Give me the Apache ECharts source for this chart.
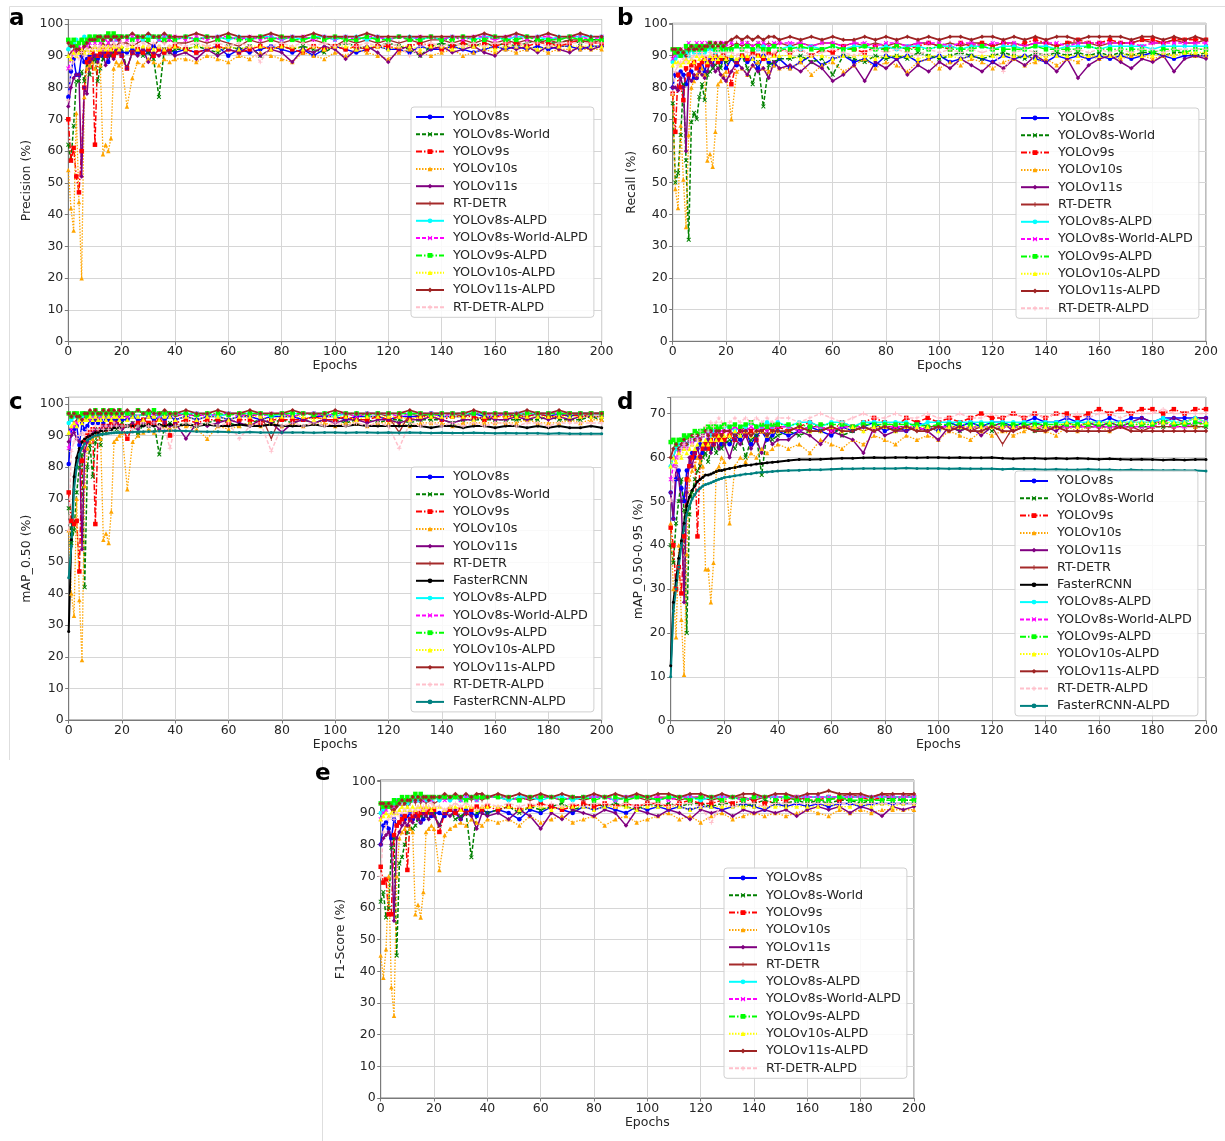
<!DOCTYPE html>
<html>
<head>
<meta charset="utf-8">
<script src="https://cdn.jsdelivr.net/npm/echarts@6/dist/echarts.min.js"></script>
<style>html,body{margin:0;padding:0;background:#fff}#main{width:1225px;height:1141px}</style>
</head>
<body>
<div id="main"></div>
<script>
// ---------------- DATA ----------------
const EPOCHS = [0,1,2,3,4,5,6,7,8,9,10,11,12,13,14,15,16,17,18,19,20,
 22,24,26,28,30,32,34,36,38,40,
 44,48,52,56,60,64,68,72,76,80,84,88,92,96,100,104,108,112,116,120,
 124,128,132,136,140,144,148,152,156,160,164,168,172,176,180,184,188,192,196,200];

// (a) Precision
const A_V8S = [77,85,89,84,84,90,88,89,90,91,90,89,91,90,91,88,91,90,91,92,91,
 91,92,91,92,91,93,92,91,92,91,
 92,91,92,93,90,92,91,92,93,92, 91,92,90,92,93,92,91,92,93,92, 92,91,93,92,92,93,92,91,92,93, 92,93,92,93,92,93,93,92,93,93];
const A_V8SW = [62,57,68,82,82,85,82,88,84,88,89,82,86,89,90,91,90,91,92,91,92,
 86,91,92,90,91,89,77,92,91,92,
 92,93,92,91,93,92,93,90,92,93, 92,93,92,91,93,94,93,92,93,94, 93,92,90,93,94,93,94,93,94,93, 94,93,94,95,94,94,95,94,95,95];
const A_V9S = [70,57,61,52,47,60,80,88,89,91,62,90,91,92,90,91,92,90,91,92,90,
 86,91,92,91,92,90,92,91,92,93,
 92,91,92,93,92,91,92,93,92,93, 92,91,93,92,93,92,93,92,93,93, 92,93,94,93,92,93,94,93,94,93, 94,94,93,94,94,93,94,95,94,94];
const A_V10S = [54,42,35,72,44,20,77,86,87,88,86,88,87,59,62,60,64,86,88,87,88,
 74,83,88,87,89,88,87,89,88,89,
 89,88,90,89,88,90,89,91,90,89, 88,91,90,89,91,90,92,91,90,89, 91,92,91,90,91,92,90,91,92,91, 92,91,92,92,91,92,92,92,92,92];
const A_V11S = [74,80,83,84,84,52,80,78,88,89,90,88,90,91,87,90,91,89,92,91,90,
 86,91,90,92,88,91,90,92,91,90,
 91,89,92,90,92,91,93,90,92,91, 88,92,91,93,92,89,92,93,91,88, 92,93,90,92,93,91,92,93,91,90, 93,92,93,91,93,92,91,93,92,93];
const A_RTDETR = [90,91,92,91,92,90,91,92,93,92,93,92,93,94,93,94,93,94,93,94,94,
 94,93,94,95,94,93,95,94,95,94,
 94,95,94,95,94,93,95,94,95,94, 95,94,95,94,93,95,94,95,94,95, 94,95,94,95,95,94,95,94,95,94, 95,94,95,94,95,94,95,95,94,95];
const A_V8SA = [92,93,94,95,94,95,96,95,96,95,96,95,96,95,96,96,95,96,95,96,96,
 96,95,96,95,96,96,95,96,96,95,
 96,95,96,96,95,96,95,96,96,95, 96,95,96,96,95,96,96,95,96,95, 96,96,95,96,95,96,96,95,96,96, 95,96,96,96,95,96,96,96,96,96];
const A_V8SWA = [86,89,91,92,93,92,94,93,94,95,94,95,94,95,95,94,95,96,95,95,96,
 95,96,95,96,95,96,95,96,95,96,
 95,96,95,96,96,95,96,95,96,95, 96,96,95,96,95,96,95,96,96,95, 96,95,96,96,95,96,95,96,96,95, 96,96,95,96,96,95,96,96,95,96];
const A_V9SA = [95,94,95,93,94,95,94,95,96,95,96,95,96,95,96,97,96,97,96,96,96,
 96,95,96,96,95,96,96,95,96,95,
 96,95,96,95,96,95,95,96,95,96, 95,95,96,95,96,95,95,96,95,95, 96,95,95,96,95,95,96,95,95,96, 95,95,96,95,95,95,96,95,95,95];
const A_V10SA = [90,89,91,90,91,92,91,92,91,92,93,92,92,93,92,93,92,93,93,92,93,
 92,93,92,93,93,92,93,92,93,93,
 92,93,93,92,93,92,93,93,92,93, 93,92,93,92,93,93,92,93,93,92, 93,93,92,93,93,92,93,93,93,92, 93,93,93,92,93,93,93,93,93,93];
const A_V11SA = [94,93,93,92,92,91,93,94,95,95,95,96,96,95,96,96,95,96,96,95,96,
 96,97,96,96,97,96,96,97,96,96,
 96,97,96,96,97,96,96,96,97,96, 96,96,97,96,96,96,96,97,96,96, 96,96,96,96,96,96,96,96,97,96, 96,97,96,96,97,96,96,97,96,96];
const A_RTDETRA = [76,86,88,90,89,91,90,92,91,92,93,92,93,92,93,92,93,94,93,93,94,
 93,94,93,94,93,94,93,94,93,94,
 93,94,93,94,93,94,93,88,93,94, 93,94,93,94,93,94,93,94,93,94, 93,90,93,94,93,94,93,94,93,94, 94,93,94,94,93,94,94,94,94,94];

// (b) Recall
const B_V8S = [80,84,84,85,84,81,84,85,83,83,86,88,85,88,89,87,90,89,88,90,86,
 89,87,90,88,89,86,90,88,87,89,
 86,88,90,87,89,90,88,89,87,90, 89,90,88,89,90,88,89,90,89,88, 90,89,90,89,88,90,89,90,89,90, 89,90,89,90,91,90,89,90,90,90];
const B_V8SW = [75,50,53,65,81,57,32,69,72,70,77,81,76,84,85,86,87,88,86,89,88,
 89,88,90,86,81,88,74,87,88,89,
 89,90,88,89,84,90,89,88,90,89, 90,89,91,90,89,90,91,90,89,90, 91,90,89,91,90,91,90,91,90,91, 90,91,90,91,91,90,91,91,90,91];
const B_V9S = [78,66,84,80,76,86,84,87,88,86,87,88,89,87,88,89,90,88,89,90,89,
 81,88,90,89,91,90,89,91,90,92,
 91,92,90,92,91,93,92,91,93,92, 93,92,93,94,93,92,94,93,94,93, 94,93,94,95,94,93,94,95,94,94, 95,94,94,95,95,94,95,95,95,95];
const B_V10S = [78,48,42,68,51,36,65,80,82,84,85,86,84,57,59,55,66,81,82,84,85,
 70,85,86,84,87,88,86,85,87,86,
 86,88,84,87,88,85,87,89,86,88, 87,85,88,89,86,88,87,89,88,86, 88,89,87,88,89,87,89,88,90,89, 90,89,90,90,89,90,90,91,90,90];
const B_V11S = [80,80,79,83,80,60,83,82,84,83,85,84,83,85,88,87,85,86,84,83,82,
 85,88,86,84,87,85,86,83,88,86,
 87,85,88,86,82,84,87,82,88,86, 89,84,87,85,88,86,89,87,85,88, 86,89,87,90,88,85,89,83,87,89, 90,88,86,89,88,90,85,89,90,89];
const B_RTDETR = [90,91,92,90,91,92,91,92,93,92,91,93,92,93,92,93,92,93,94,93,92,
 93,94,93,94,93,94,93,94,93,94,
 93,94,93,94,94,93,94,93,94,93, 94,93,94,94,93,94,93,94,94,93, 94,94,93,94,94,93,94,94,94,93, 94,94,94,95,94,94,95,94,94,95];
const B_V8SA = [88,89,90,91,90,91,90,92,91,92,91,92,91,92,93,92,91,92,93,92,92,
 92,93,92,93,92,92,93,92,93,92,
 93,92,93,92,93,92,93,93,92,93, 92,93,93,92,93,93,92,93,93,92, 93,93,92,93,93,92,93,93,93,92, 93,93,93,93,92,93,93,93,93,93];
const B_V8SWA = [89,90,91,92,91,93,94,92,93,94,93,94,93,94,94,93,94,93,94,94,93,
 94,93,94,94,93,94,94,93,94,94,
 94,94,93,94,94,93,94,94,93,94, 94,93,94,94,94,93,94,94,93,94, 94,94,93,94,94,94,93,94,94,94, 94,94,94,93,94,94,94,94,94,94];
const B_V9SA = [92,91,92,90,91,93,92,93,92,93,92,93,92,93,94,93,92,93,92,93,92,
 92,93,92,93,92,93,92,92,93,92,
 92,93,92,92,93,92,92,93,92,92, 93,92,92,92,93,92,92,92,93,92, 92,92,92,93,92,92,92,92,93,92, 92,92,92,92,91,92,92,91,92,92];
const B_V10SA = [87,88,88,87,88,89,88,89,88,90,89,90,89,88,90,89,90,89,90,90,89,
 90,89,90,90,89,90,90,89,90,90,
 90,89,90,90,89,90,90,90,89,90, 90,90,89,90,90,90,89,90,90,90, 90,90,90,89,90,90,90,90,90,90, 90,90,91,90,90,91,90,91,91,91];
const B_V11SA = [92,92,91,92,91,90,92,93,92,92,93,92,93,93,94,93,94,93,94,93,94,
 95,96,95,96,95,96,95,96,96,95,
 96,95,96,95,96,95,95,96,95,96, 95,96,95,96,95,96,96,95,96,96, 95,96,95,96,95,96,96,95,96,96, 96,96,95,96,96,95,96,95,96,95];
const B_RTDETRA = [78,85,87,88,89,88,90,89,90,91,90,91,90,89,91,90,91,92,91,90,91,
 91,90,92,91,90,92,91,90,91,92,
 91,92,90,91,92,91,90,91,92,91, 92,91,90,92,91,92,91,92,91,92, 85,91,92,91,90,92,91,92,91,92, 91,92,91,92,92,91,92,92,92,92];

// (c) mAP_0.50
const C_V8S = [81,92,92,93,87,94,92,93,95,94,95,94,95,94,95,95,94,95,95,96,95,
 95,96,95,95,96,95,96,95,96,95,
 96,95,96,96,95,96,96,95,96,96, 96,95,96,96,96,95,96,96,96,95, 96,96,96,97,96,96,96,97,96,96, 97,96,96,97,96,97,96,97,97,97];
const C_V8SW = [67,56,60,72,80,84,42,80,87,77,88,92,87,92,91,93,92,93,92,93,94,
 93,94,90,94,93,94,84,93,94,93,
 94,93,94,95,94,93,94,95,94,95, 94,95,94,95,95,94,95,95,94,95, 95,94,95,95,95,94,95,95,95,95, 95,95,95,95,96,95,95,95,96,95];
const C_V9S = [72,63,62,63,47,82,88,90,91,92,62,91,92,93,92,93,94,93,94,93,93,
 89,93,94,95,94,94,95,94,90,94,
 95,94,95,95,94,95,95,94,95,95, 95,95,96,95,95,96,95,95,96,95, 96,95,96,96,95,96,96,96,95,96, 96,96,96,97,96,96,97,96,97,97];
const C_V10S = [60,40,33,70,38,19,74,86,88,89,90,91,89,57,59,56,66,88,89,90,91,
 73,88,90,91,92,91,92,93,92,93,
 93,92,89,93,92,93,94,93,94,93, 94,93,94,94,93,94,94,93,94,94, 94,93,94,94,94,93,94,94,94,94, 94,94,95,94,94,94,95,94,95,95];
const C_V11S = [88,90,91,89,88,54,85,88,90,91,92,91,92,93,92,93,92,93,94,93,92,
 93,94,92,94,93,94,92,94,93,94,
 89,94,93,94,95,94,93,95,94,91, 94,95,94,95,94,95,95,94,95,95, 94,95,95,96,95,94,95,95,96,95, 95,96,95,96,95,96,95,96,96,96];
const C_RTDETR = [94,95,94,95,96,95,96,95,96,96,95,96,96,97,96,96,97,96,96,97,96,
 96,97,96,97,96,96,97,96,97,96,
 97,96,97,96,97,97,96,97,89,97, 96,97,97,96,97,97,96,97,97,96, 91,97,96,97,97,97,96,97,97,97, 97,96,97,97,97,97,97,97,97,97];
const C_FRCNN = [28,57,77,83,86,88,89,89.5,90,90.5,91,91,91.5,91.5,92,92,92,92.5,92.5,92.5,93,
 93,93,93,93,93.5,93,93.5,93,93.5,93,
 93.5,93,93.5,93,93,93.5,93,93,93.5,93, 93,93,93.5,93,93,93,93.5,93,93,93, 93,93,93,92.5,93,93,92.5,93,93,92.5, 93,93,92.5,93,92.5,93,92.5,92.5,93,92.5];
const C_V8SA = [94,95,96,96,95,96,97,96,97,96,97,97,96,97,97,96,97,97,97,97,97,
 97,97,96,97,97,97,96,97,97,97,
 97,97,97,96,97,97,97,97,96,97, 97,97,97,97,96,97,97,97,97,97, 97,97,97,97,97,97,97,97,97,97, 97,97,97,97,97,97,97,97,97,97];
const C_V8SWA = [86,92,93,94,95,94,95,96,95,96,96,95,96,96,97,96,96,97,96,96,97,
 96,97,96,97,96,97,96,97,96,97,
 96,97,96,97,97,96,97,96,97,97, 96,97,97,96,97,97,96,97,97,97, 96,97,97,97,96,97,97,97,97,96, 97,97,97,97,97,97,97,97,97,97];
const C_V9SA = [97,96,97,97,96,97,97,96,97,97,98,97,97,98,97,97,98,97,97,98,97,
 97,97,98,97,97,98,97,97,97,97,
 97,96.5,97,97,96.5,97,97,97,96.5,97, 97,97,96.5,97,97,97,97,96.5,97,97, 97,97,97,96.5,97,97,97,97,97,97, 97,96.5,97,97,97,97,97,97,97,97];
const C_V10SA = [91,93,94,93,95,94,95,95,96,95,96,95,95,96,95,96,95,96,96,95,96,
 95,96,96,95,96,96,95,96,96,95,
 96,95,96,96,95,96,96,96,95,96, 96,96,95,96,96,96,95,96,96,96, 96,95,96,96,96,96,96,95,96,96, 96,96,96,96,96,96,96,96,96,96];
const C_V11SA = [97,96,97,96,96,95,97,97,98,97,98,97,97,98,97,98,97,98,97,98,97,
 98,97,98,97,98,97,97,98,97,97,
 98,97,97,98,97,97,98,97,97,97, 98,97,97,97,98,97,97,97,97,97, 97,98,97,97,97,97,97,98,97,97, 97,97,98,97,97,98,97,97,97,97];
const C_RTDETRA = [60,85,88,89,90,91,90,92,91,92,93,92,93,92,93,92,93,94,93,92,93,
 93,92,93,94,93,94,93,92,86,93,
 94,93,94,93,94,89,93,94,85,93, 94,93,94,93,94,93,94,93,94,93, 86,94,93,94,93,94,93,94,93,94, 94,93,94,94,93,94,94,94,94,94];
const C_FRCNNA = [45,55,73,80,84,86,87.5,88.5,89,89.5,90,90.2,90.4,90.5,90.6,90.7,90.8,90.9,91,91,91,
 91,91.1,91.2,91.2,91.3,91.3,91.4,91.4,91.5,91.5,
 91.4,91.3,91.2,91.2,91.1,91,91.1,91,91,91, 91,91,90.9,91,91,90.9,91,91,90.9,91, 90.9,91,90.9,90.8,90.9,90.8,90.8,90.9,90.8,90.7, 90.8,90.7,90.7,90.7,90.6,90.7,90.6,90.6,90.6,90.6];

// (d) mAP_0.50-0.95
const D_V8S = [52,46,55,57,53,50,57,58,61,60,62,63,61,63,64,62,63,64,65,63,64,
 63,65,64,66,63,65,66,64,65,66,
 65,66,67,66,65,67,66,67,68,66, 67,66,68,67,66,68,67,68,67,68, 68,67,68,69,68,68,69,68,69,68, 69,68,69,69,68,69,69,69,69,69];
const D_V8SW = [40,36,45,50,55,48,20,47,52,55,57,58,60,61,59,62,63,61,64,62,63,
 64,62,65,60,64,65,56,66,64,65,
 66,65,66,66,67,65,66,67,66,67, 66,67,67,66,67,67,66,67,67,66, 67,67,67,66,67,67,67,67,67,67, 67,67,67,67,67,67,67,68,67,67];
const D_V9S = [44,40,30,35,29,42,55,58,60,61,42,60,62,63,62,64,63,65,64,65,64,
 65,64,66,65,66,64,66,67,66,67,
 66,67,68,67,66,68,67,68,69,68, 67,69,68,69,68,69,68,69,70,69, 69,70,69,70,69,70,70,69,70,71, 70,71,70,71,71,70,71,70,71,71];
const D_V10S = [45,30,19,40,23,10.5,38,55,57,58,60,59,58,34.5,34.5,27,36,57,58,60,59,
 45,58,60,59,61,60,62,61,62,63,
 62,63,61,64,63,62,64,63,65,64, 63,65,64,65,64,66,65,64,66,65, 66,65,66,67,66,65,67,66,67,67, 66,67,67,68,67,68,67,68,67,68];
const D_V11S = [52,46,58,55,50,27,52,60,58,61,62,60,63,62,64,61,63,64,62,65,63,
 60,64,63,65,62,64,61,65,63,64,
 64,66,65,63,66,65,64,61,67,65, 66,66,67,66,64,67,66,67,65,67, 68,66,67,68,67,66,68,67,68,67, 68,67,68,69,68,68,69,68,69,69];
const D_RTDETR = [58,60,62,61,63,62,63,64,63,64,65,64,65,66,65,66,65,66,66,65,66,
 66,67,66,67,66,67,67,66,67,67,
 67,66,67,67,66,67,67,66,67,67, 67,67,66,67,67,67,67,66,67,67, 63,67,67,67,66,67,67,67,67,67, 67,67,67,66,67,67,67,67,67,67];
const D_FRCNN = [12.5,27,32,37,41,45,49,51,52.5,53.5,54.5,55,55.5,56,56,56.2,56.5,56.8,57,57,57.2,
 57.5,57.7,58,58.2,58.3,58.5,58.6,58.8,58.9,59,
 59.3,59.5,59.5,59.6,59.7,59.8,59.8,59.9,60,59.9, 60,60,59.9,60,60,59.9,60,59.9,59.9,60, 59.8,59.7,59.8,59.8,59.7,59.8,59.7,59.8,59.7,59.6, 59.7,59.6,59.5,59.6,59.5,59.4,59.5,59.4,59.5,59.5];
const D_V8SA = [58,60,62,63,62,64,63,64,65,64,65,66,65,66,66,65,66,67,66,67,67,
 67,66,67,67,68,67,67,68,67,68,
 67,68,68,67,68,68,67,68,68,68, 68,68,67,68,68,68,68,68,68,68, 68,68,68,68,68,68,68,68,68,68, 68,68,68,68,68,69,68,68,69,68];
const D_V8SWA = [55,58,60,61,62,63,62,64,63,64,65,64,65,66,65,66,65,66,66,66,66,
 66,67,66,66,67,66,67,66,67,67,
 67,66,67,67,66,67,67,67,66,67, 67,67,67,66,67,67,67,67,67,67, 67,67,67,67,67,67,67,67,67,67, 67,67,67,67,67,68,67,67,68,68];
const D_V9SA = [63.5,64,63,64,64,65,64.5,65,65,66,65.5,66,66,66.5,67,66.5,67,67,66.5,67,67.5,
 67,67.5,67,67.5,68,67,67.5,67,67.5,67.5,
 67.5,67.5,67,67.5,67.5,67.5,67,67.5,67.5,67.5, 67.5,67.5,67.5,67,67.5,67.5,67.5,67.5,67.5,67.5, 67.5,67.5,67.5,67.5,67.5,67.5,67.5,67.5,67.5,67.5, 67.5,67.5,67.5,67.5,67.5,68,67.5,67.5,68,67.5];
const D_V10SA = [58,60,59,61,60,62,61,62,63,62,63,64,63,64,63,64,65,64,65,64,65,
 65,66,65,66,65,66,66,65,66,66,
 66,67,66,66,67,66,67,66,67,67, 66,67,67,67,66,67,67,67,67,67, 67,67,67,67,67,67,68,67,68,68, 68,68,68,68,68,68,68,68,69,68];
const D_V11SA = [60,62,63,62,63,64,63,64,65,64,65,64,65,66,65,66,65,66,66,65,66,
 66,65,66,66,65,66,66,65,66,66,
 66,67,66,66,67,66,66,67,66,67, 66,67,66,66,67,66,67,66,66,67, 66,66,67,66,66,67,66,66,66,66, 66,67,66,66,66,66,66,66,66,66];
const D_RTDETRA = [50,55,58,60,62,63,62,64,63,65,64,66,65,67,66,68,67,68,69,68,67,
 68,69,68,69,68,69,68,69,68,69,
 69,68,69,70,69,68,69,70,69,69, 70,69,69,70,69,69,70,69,69,70, 69,70,69,70,69,70,69,70,69,70, 70,69,70,70,70,71,70,70,70,70];
const D_FRCNNA = [10,25,30,35,40,44,47,49,50.5,51.5,52.5,53,53.5,53.8,54,54.2,54.5,54.8,55,55.2,55.4,
 55.6,55.8,56,56.2,56.3,56.5,56.6,56.7,56.8,56.9,
 57,57.1,57.2,57.2,57.3,57.4,57.4,57.5,57.5,57.5, 57.5,57.6,57.5,57.5,57.5,57.4,57.5,57.4,57.4,57.4, 57.3,57.4,57.3,57.3,57.2,57.3,57.2,57.2,57.3,57.2, 57.2,57.1,57.2,57.1,57.1,57,57.1,57,57,56.9];

// (e) F1-Score
const E_V8S = [80,86,87,85,82,88,86,87,89,88,89,90,88,90,89,87,88,90,91,89,90,
 90,89,91,90,88,91,90,89,91,90,
 91,90,88,91,90,92,91,90,92,91, 92,91,90,92,91,92,91,92,91,92, 92,91,92,93,92,91,93,92,93,92, 93,92,93,93,92,93,93,93,93,93];
const E_V8SW = [62,65,57,60,79,82,45,74,76,80,84,85,85,86,88,89,90,89,90,91,90,
 86,90,91,88,89,90,76,90,91,90,
 91,92,90,92,91,92,93,91,92,93, 92,93,92,91,93,92,93,92,93,93, 92,93,93,92,93,94,93,93,94,93, 94,93,94,94,93,94,94,95,94,94];
const E_V9S = [73,68,69,58,58,83,86,87,88,89,72,88,89,90,89,90,91,90,91,90,91,
 84,90,91,90,91,90,91,92,91,92,
 91,92,91,92,93,92,91,92,93,92, 93,92,93,92,93,93,92,93,94,93, 93,94,93,94,94,93,94,94,95,94, 94,95,94,95,95,94,95,95,95,95];
const E_V10S = [45,38,47,70,35,26,70,82,84,85,86,85,84,58,61,57,65,84,85,86,85,
 72,83,85,86,87,86,88,87,86,88,
 87,88,86,89,87,88,89,87,88,89, 86,88,89,87,88,89,90,88,89,87, 89,90,88,89,90,89,90,89,90,91, 90,89,91,90,91,90,91,91,91,91];
const E_V11S = [80,82,83,84,80,56,82,84,86,87,86,88,87,89,88,87,90,89,88,90,89,
 86,90,89,91,88,90,89,85,90,89,
 90,88,91,89,85,90,88,91,90,89, 91,90,86,91,90,89,91,90,88,91, 90,91,89,91,90,91,90,91,89,91, 92,91,92,90,92,91,89,92,91,92];
const E_RTDETR = [91,92,91,92,91,90,92,93,92,93,92,93,94,93,94,93,94,93,94,94,93,
 94,95,94,95,94,95,94,95,94,95,
 95,94,95,94,95,95,94,95,94,95, 95,94,95,95,94,95,95,94,95,95, 94,95,95,95,94,95,95,95,94,95, 95,95,95,96,95,95,96,95,95,96];
const E_V8SA = [90,91,92,93,92,93,94,93,94,94,93,94,94,95,94,94,95,94,95,94,95,
 94,95,94,95,94,95,95,94,95,95,
 95,94,95,95,94,95,95,94,95,95, 95,94,95,95,95,94,95,95,95,94, 95,95,95,94,95,95,95,95,95,95, 95,95,95,95,95,95,95,95,95,95];
const E_V8SWA = [88,90,91,92,93,92,94,93,94,94,95,94,95,94,95,95,94,95,95,94,95,
 95,94,95,95,94,95,95,94,95,95,
 95,95,94,95,95,95,94,95,95,95, 95,94,95,95,95,95,94,95,95,95, 95,95,95,94,95,95,95,95,95,95, 95,95,95,95,95,95,95,95,95,95];
const E_V9SA = [93,92,93,92,93,94,93,94,95,94,95,94,95,96,95,96,95,95,95,95,95,
 95,95,95,95,95,94,95,95,95,95,
 95,95,94,95,95,95,94,95,95,94, 95,95,94,95,95,94,95,95,94,95, 95,94,95,94,95,95,94,95,94,94, 94,94,95,94,94,94,94,94,94,94];
const E_V10SA = [88,89,90,89,90,91,90,91,92,91,92,91,92,91,92,92,91,92,92,91,92,
 92,91,92,92,91,92,92,91,92,92,
 92,92,91,92,92,91,92,92,92,91, 92,92,92,91,92,92,92,92,91,92, 92,92,92,92,92,92,92,92,92,92, 92,93,92,92,93,92,93,92,93,93];
const E_V11SA = [93,93,92,93,92,91,92,93,94,93,94,94,95,94,95,94,95,95,94,95,95,
 95,96,95,96,95,96,95,96,96,95,
 96,95,96,95,96,95,96,95,95,96, 95,96,95,96,95,96,96,95,96,96, 95,96,95,96,96,95,96,96,95,96, 96,97,96,96,96,95,96,96,96,96];
const E_RTDETRA = [70,84,86,88,89,88,90,89,90,91,90,91,90,91,92,91,92,91,92,93,92,
 92,91,92,93,92,93,92,91,92,93,
 92,93,92,93,92,93,92,93,92,93, 93,92,93,92,93,93,92,93,93,92, 87,93,92,93,93,92,93,93,93,93, 93,93,93,93,93,93,93,93,93,93];

// ---------------- STYLES ----------------
const FONT = 'DejaVu Sans';
const SYM_X = 'path://M0,1.5L1.5,0L5,3.5L8.5,0L10,1.5L6.5,5L10,8.5L8.5,10L5,6.5L1.5,10L0,8.5L3.5,5Z';
const SYM_PLUS = 'path://M4,0H6V4H10V6H6V10H4V6H0V4H4Z';
// thin vertical tick; two tiny corner specks keep the bounding box square
const SYM_BAR = 'path://M0,0L0.05,0L0.05,0.05ZM10,10L9.95,10L9.95,9.95ZM4.2,0H5.8V10H4.2Z';
const DASH = [4, 2], DASHDOT = [6, 2, 1.5, 2], DOT = [1.5, 1.5];
const STYLE = {
  'YOLOv8s':            {c:'#0000ff', t:'solid', s:'circle', w:1.5},
  'YOLOv8s-World':      {c:'#008000', t:DASH,    s:SYM_X,    w:1.5},
  'YOLOv9s':            {c:'#ff0000', t:DASHDOT, s:'rect',   w:1.5},
  'YOLOv10s':           {c:'#ffa500', t:DOT,     s:'triangle', w:1.3},
  'YOLOv11s':           {c:'#800080', t:'solid', s:'diamond', w:1.5},
  'RT-DETR':            {c:'#a52a2a', t:'solid', s:SYM_BAR,  w:1.3},
  'FasterRCNN':         {c:'#000000', t:'solid', s:'circle', w:2},
  'YOLOv8s-ALPD':       {c:'#00ffff', t:'solid', s:'circle', w:1.5},
  'YOLOv8s-World-ALPD': {c:'#ff00ff', t:DASH,    s:SYM_X,    w:1.5},
  'YOLOv9s-ALPD':       {c:'#00ff00', t:DASHDOT, s:'rect',   w:1.5},
  'YOLOv10s-ALPD':      {c:'#ffff00', t:DOT,     s:'triangle', w:1.3},
  'YOLOv11s-ALPD':      {c:'#9e2424', t:'solid', s:'diamond', w:1.8},
  'RT-DETR-ALPD':       {c:'#ffc0cb', t:DASH,    s:SYM_PLUS, w:1.5},
  'FasterRCNN-ALPD':    {c:'#008080', t:'solid', s:'circle', w:2}
};

const PANELS = [
  {letter:'a', lx:9, ly:21, grid:{left:68.3, top:19.5, width:533.3, height:322.2}, ymax:101.4, yName:'Precision (%)', yGap:35,
   legend:{left:411, top:107}, series:[['YOLOv8s',A_V8S],['YOLOv8s-World',A_V8SW],['YOLOv9s',A_V9S],['YOLOv10s',A_V10S],['YOLOv11s',A_V11S],['RT-DETR',A_RTDETR],
   ['YOLOv8s-ALPD',A_V8SA],['YOLOv8s-World-ALPD',A_V8SWA],['YOLOv9s-ALPD',A_V9SA],['YOLOv10s-ALPD',A_V10SA],['YOLOv11s-ALPD',A_V11SA],['RT-DETR-ALPD',A_RTDETRA]]},
  {letter:'b', lx:617, ly:21, grid:{left:672.7, top:23.3, width:533.3, height:318}, ymax:100.2, yName:'Recall (%)', yGap:34.5,
   legend:{left:1016, top:108}, series:[['YOLOv8s',B_V8S],['YOLOv8s-World',B_V8SW],['YOLOv9s',B_V9S],['YOLOv10s',B_V10S],['YOLOv11s',B_V11S],['RT-DETR',B_RTDETR],
   ['YOLOv8s-ALPD',B_V8SA],['YOLOv8s-World-ALPD',B_V8SWA],['YOLOv9s-ALPD',B_V9SA],['YOLOv10s-ALPD',B_V10SA],['YOLOv11s-ALPD',B_V11SA],['RT-DETR-ALPD',B_RTDETRA]]},
  {letter:'c', lx:9, ly:405, grid:{left:68.7, top:397.3, width:533, height:322.7}, ymax:102.1, yName:'mAP_0.50 (%)', yGap:35,
   legend:{left:411, top:467}, series:[['YOLOv8s',C_V8S],['YOLOv8s-World',C_V8SW],['YOLOv9s',C_V9S],['YOLOv10s',C_V10S],['YOLOv11s',C_V11S],['RT-DETR',C_RTDETR],['FasterRCNN',C_FRCNN],
   ['YOLOv8s-ALPD',C_V8SA],['YOLOv8s-World-ALPD',C_V8SWA],['YOLOv9s-ALPD',C_V9SA],['YOLOv10s-ALPD',C_V10SA],['YOLOv11s-ALPD',C_V11SA],['RT-DETR-ALPD',C_RTDETRA],['FasterRCNN-ALPD',C_FRCNNA]]},
  {letter:'d', lx:617, ly:405, grid:{left:670.7, top:397.3, width:535.3, height:323.4}, ymax:73.7, yName:'mAP_0.50-0.95 (%)', yGap:25.5,
   legend:{left:1015, top:471}, series:[['YOLOv8s',D_V8S],['YOLOv8s-World',D_V8SW],['YOLOv9s',D_V9S],['YOLOv10s',D_V10S],['YOLOv11s',D_V11S],['RT-DETR',D_RTDETR],['FasterRCNN',D_FRCNN],
   ['YOLOv8s-ALPD',D_V8SA],['YOLOv8s-World-ALPD',D_V8SWA],['YOLOv9s-ALPD',D_V9SA],['YOLOv10s-ALPD',D_V10SA],['YOLOv11s-ALPD',D_V11SA],['RT-DETR-ALPD',D_RTDETRA],['FasterRCNN-ALPD',D_FRCNNA]]},
  {letter:'e', lx:315, ly:776, grid:{left:380.7, top:780, width:533.3, height:318}, ymax:100.4, yName:'F1-Score (%)', yGap:33,
   legend:{left:724, top:868}, series:[['YOLOv8s',E_V8S],['YOLOv8s-World',E_V8SW],['YOLOv9s',E_V9S],['YOLOv10s',E_V10S],['YOLOv11s',E_V11S],['RT-DETR',E_RTDETR],
   ['YOLOv8s-ALPD',E_V8SA],['YOLOv8s-World-ALPD',E_V8SWA],['YOLOv9s-ALPD',E_V9SA],['YOLOv10s-ALPD',E_V10SA],['YOLOv11s-ALPD',E_V11SA],['RT-DETR-ALPD',E_RTDETRA]]}
];

// ---------------- BUILD ----------------
const grids = [], xAxes = [], yAxes = [], series = [], legends = [], graphics = [];
const bad = [];
const textCol = '#262626';
PANELS.forEach((p, i) => {
  grids.push(Object.assign({show:true, borderColor:'#7a7a7a', borderWidth:1, backgroundColor:'transparent', containLabel:false}, p.grid));
  xAxes.push({type:'value', gridIndex:i, min:0, max:200, interval:20,
    name:'Epochs', nameLocation:'middle', nameGap:16,
    nameTextStyle:{fontFamily:FONT, fontSize:12.5, color:textCol},
    axisLine:{show:true, lineStyle:{color:'#7a7a7a'}}, axisTick:{show:true, length:3.5, lineStyle:{color:'#7a7a7a'}},
    axisLabel:{fontFamily:FONT, fontSize:12.5, color:textCol, margin:4},
    splitLine:{show:true, lineStyle:{color:'#d6d6d6', width:1}}});
  yAxes.push({type:'value', gridIndex:i, min:0, max:p.ymax, interval:10,
    name:p.yName, nameLocation:'middle', nameRotate:90, nameGap:p.yGap,
    nameTextStyle:{fontFamily:FONT, fontSize:12.5, color:textCol},
    axisLine:{show:true, lineStyle:{color:'#7a7a7a'}}, axisTick:{show:true, length:3.5, lineStyle:{color:'#7a7a7a'}},
    axisLabel:{fontFamily:FONT, fontSize:12.5, color:textCol, margin:5,
      formatter: v => (Math.abs(v % 10) < 1e-6 ? String(Math.round(v)) : '')},
    splitLine:{show:true, lineStyle:{color:'#d6d6d6', width:1}}});
  p.series.forEach(([name, arr]) => {
    if (arr.length !== EPOCHS.length) bad.push(p.letter + ':' + name + '=' + arr.length);
    const st = STYLE[name];
    series.push({
      name, type:'line', xAxisIndex:i, yAxisIndex:i,
      data: EPOCHS.map((e, j) => [e, arr[j]]),
      symbol: st.s, symbolSize: (st.s === 'circle' && name.indexOf('Faster') === 0) ? 3 : 4.5,
      showSymbol:true, clip:true, silent:true, animation:false,
      lineStyle:{color:st.c, width:st.w, type:st.t},
      itemStyle:{color:st.c, borderWidth:0},
      emphasis:{disabled:true}
    });
  });
  legends.push({
    show:true, orient:'vertical', left:p.legend.left, top:p.legend.top,
    data:p.series.map(s => s[0]), selectedMode:false,
    itemWidth:28, itemHeight:6, itemGap:3.3, padding:[3,6,3,4],
    backgroundColor:'rgba(255,255,255,0.85)', borderColor:'#d0d0d0', borderWidth:1, borderRadius:3,
    textStyle:{fontFamily:FONT, fontSize:12.8, color:textCol, lineHeight:14, padding:[0,0,0,4]}
  });
  graphics.push({type:'text', left:p.lx, top:p.ly - 13, z:100,
    style:{text:p.letter, font:'bold 23px "DejaVu Sans"', fill:'#000'}});
});

// page separators (thin light-gray frame lines)
graphics.push({type:'line', shape:{x1:9.5, y1:6.5, x2:1225, y2:6.5}, style:{stroke:'#dedede', lineWidth:1}, z:0});
graphics.push({type:'line', shape:{x1:9.5, y1:6.5, x2:9.5, y2:760}, style:{stroke:'#dedede', lineWidth:1}, z:0});
graphics.push({type:'line', shape:{x1:322.5, y1:760, x2:322.5, y2:1141}, style:{stroke:'#dedede', lineWidth:1}, z:0});
if (bad.length) graphics.push({type:'text', left:20, top:1120, style:{text:'LEN ERR: ' + bad.join(' '), fill:'red', font:'12px sans-serif'}});

const chart = echarts.init(document.getElementById('main'), null, {renderer:'canvas'});
chart.setOption({
  animation:false, backgroundColor:'#ffffff',
  grid:grids, xAxis:xAxes, yAxis:yAxes, series, legend:legends, graphic:graphics
});
</script>
</body>
</html>
